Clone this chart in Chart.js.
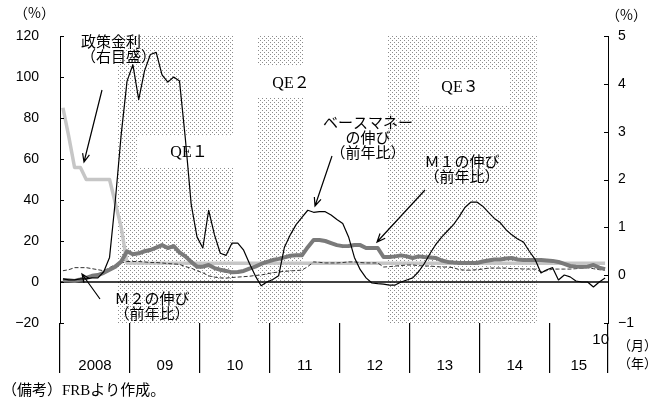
<!DOCTYPE html>
<html>
<head>
<meta charset="utf-8">
<script src="https://cdn.jsdelivr.net/npm/chart.js@4.4.1/dist/chart.umd.min.js"></script>
<style>
  html, body { margin: 0; padding: 0; background: #fff; }
  canvas { display: block; }
</style>
</head>
<body>
<canvas id="grafico" width="657" height="403"></canvas>
<script>
// Dados mensais: jan/2008 .. out/2015 (94 meses)
const anos = ['2008', '09', '10', '11', '12', '13', '14', '15'];
const limitesAno = [-0.5, 11.5, 23.5, 35.5, 47.5, 59.5, 71.5, 83.5, 93.5];

// ベースマネーの伸び（前年比, %）
const baseMoney = [
  1.5, 1, 1, 1.5, 1.5, 2, 2, 5, 12, 40, 72, 98,
  106, 89, 103, 111, 112, 101, 97.5, 100, 98, 70, 38, 22,
  16.6, 35, 23, 14, 13, 19, 19, 15.5, 9, 3, -1.8, 0,
  1.2, 3, 17, 23, 28, 31.5, 35, 34, 34.3, 34.3, 32.7, 30.5,
  28.5, 22, 12, 6, 2, -0.5, -0.8, -1, -1.5, -1.5, 0, 1,
  2, 5, 9, 14, 18.5, 22, 25, 28, 32, 36.5, 39, 39,
  37, 34, 31, 29, 25.5, 23, 21, 19.5, 15, 11, 4.4, 6,
  7, 1, 3.4, 2.5, 0.5, 0, 0, -2.4, 0, 2
];

// Ｍ１の伸び（前年比, %）
const m1 = [
  1, 0.8, 0.5, 1.2, 2, 3, 3.4, 4.5, 6, 7.5, 10, 15,
  13.5, 14, 15, 15.6, 16.8, 18, 16.6, 17.5, 14.5, 12.5, 9.8, 7.5,
  7.5, 8.3, 6.8, 6, 5.4, 4.7, 4.9, 5.4, 6.5, 7.5, 8.8, 9.8,
  10.7, 11.3, 12, 12.8, 13, 13, 17, 20.5, 20.5, 20, 19, 18,
  17.5, 17.6, 18, 18, 16.6, 16.6, 16.6, 12.2, 12.2, 12.5, 13, 12.5,
  11.7, 12.5, 12.2, 12, 11.7, 10.5, 9.8, 9.5, 9.3, 9.3, 9.3, 9.3,
  10, 10.5, 11, 11, 11.5, 11.7, 11, 10.7, 10.7, 10.7, 10.7, 10.5,
  10.3, 9.8, 8.8, 7.8, 7.5, 7.3, 7.5, 8.3, 7, 6.3
];

// Ｍ２の伸び（前年比, %）
const m2 = [
  5.5, 6, 7, 7, 7, 6.5, 6, 5.5, 7, 8.5, 9.3, 10,
  10, 10, 9.8, 9.5, 9.5, 9.3, 9, 8.8, 8.6, 7.5, 6.8, 5.5,
  4.5, 3, 2.4, 2, 1.9, 2.2, 2.4, 2.6, 2.8, 3.2, 3.4, 4,
  4.5, 4.9, 5.2, 5.4, 5.6, 5.8, 7.5, 9.8, 9.6, 9.3, 9.3, 9.3,
  9.5, 9.8, 9.8, 9.5, 9.3, 9.3, 9.3, 7.3, 7.5, 7.8, 8, 8.3,
  8.3, 8, 7.8, 7.8, 7.5, 7.3, 7.3, 7, 6, 5.8, 5.8, 6,
  6.3, 6.8, 6.8, 6.8, 6.8, 6.5, 6.5, 6.3, 6.3, 6.3, 5, 5.5,
  6.3, 6.3, 6.3, 6.3, 6.5, 6.8, 7, 6.5, 6, 5.8
];

// 政策金利（右目盛, %）
const politica = [
  3.5, 2.9, 2.25, 2.25, 2, 2, 2, 2, 2, 1.5, 1, 0.25,
  0.25, 0.25, 0.25, 0.25, 0.25, 0.25, 0.25, 0.25, 0.25, 0.25, 0.25, 0.25,
  0.25, 0.25, 0.25, 0.25, 0.25, 0.25, 0.25, 0.25, 0.25, 0.25, 0.25, 0.25,
  0.25, 0.25, 0.25, 0.25, 0.25, 0.25, 0.25, 0.25, 0.25, 0.25, 0.25, 0.25,
  0.25, 0.25, 0.25, 0.25, 0.25, 0.25, 0.25, 0.25, 0.25, 0.25, 0.25, 0.25,
  0.25, 0.25, 0.25, 0.25, 0.25, 0.25, 0.25, 0.25, 0.25, 0.25, 0.25, 0.25,
  0.25, 0.25, 0.25, 0.25, 0.25, 0.25, 0.25, 0.25, 0.25, 0.25, 0.25, 0.25,
  0.25, 0.25, 0.25, 0.25, 0.25, 0.25, 0.25, 0.25, 0.25, 0.25
];

// Períodos de QE (em índice de mês)
const qeNomes = ['QE１', 'QE２', 'QE３'];
const qeInicio = [9.3, 33.3, 55.6];
const qeFim = [29.2, 41.3, 81.3];

const fonteEixo = "'Liberation Sans Narrow', 'Liberation Sans', sans-serif";
const fonteJp = "'Noto Sans CJK JP', sans-serif";
const fonteSerif = "'Liberation Serif', 'Noto Sans CJK JP', serif";

// caixas brancas com o rótulo do QE (pixels)
const caixasQE = [
  { x0: 137, x1: 233, y0: 135, y1: 168, tx: 189, ty: 153 },
  { x0: 257, x1: 303, y0: 65, y1: 98, tx: 291, ty: 84 },
  { x0: 420, x1: 510, y0: 70, y1: 105, tx: 460, ty: 88 }
];

// anotações de texto e setas (pixels)
const notas = [
  { linhas: ['政策金利', '（右目盛）'], x: 81, y: 41, alinh: 'left' },
  { linhas: ['ベースマネー', 'の伸び', '（前年比）'], x: 368, y: 122, alinh: 'center' },
  { linhas: ['Ｍ１の伸び', '（前年比）'], x: 462, y: 161, alinh: 'center' },
  { linhas: ['Ｍ２の伸び', '（前年比）'], x: 152, y: 298, alinh: 'center' }
];
const setas = [
  [102, 90, 84, 162],
  [332, 156, 315, 206],
  [425, 190, 377, 242],
  [100, 299, 82, 274]
];

function serie(valores) {
  return valores.map((v, i) => ({ x: i, y: v }));
}

let padrao = null;
function criarPadrao(ctx) {
  const c = document.createElement('canvas');
  c.width = 4; c.height = 4;
  const g = c.getContext('2d');
  g.fillStyle = '#8c8c8c';
  g.fillRect(0, 0, 1, 1);
  g.fillRect(2, 2, 1, 1);
  return ctx.createPattern(c, 'repeat');
}

function desenharSeta(ctx, x1, y1, x2, y2) {
  const ang = Math.atan2(y2 - y1, x2 - x1);
  const L = 9, abertura = 0.4;
  ctx.beginPath();
  ctx.moveTo(x1, y1);
  ctx.lineTo(x2, y2);
  ctx.moveTo(x2 - L * Math.cos(ang - abertura), y2 - L * Math.sin(ang - abertura));
  ctx.lineTo(x2, y2);
  ctx.lineTo(x2 - L * Math.cos(ang + abertura), y2 - L * Math.sin(ang + abertura));
  ctx.stroke();
}

const extras = {
  id: 'extras',
  beforeDatasetsDraw(chart) {
    const { ctx, chartArea: a, scales } = chart;
    const x = scales.x, y = scales.y;
    if (!padrao) padrao = criarPadrao(ctx);
    ctx.save();
    // áreas pontilhadas dos QE
    ctx.fillStyle = padrao;
    qeInicio.forEach((s, k) => {
      const x0 = x.getPixelForValue(s), x1 = x.getPixelForValue(qeFim[k]);
      ctx.fillRect(x0, a.top, x1 - x0, a.bottom - a.top);
    });
    // caixas brancas + rótulos
    ctx.fillStyle = '#fff';
    caixasQE.forEach(b => ctx.fillRect(b.x0, b.y0, b.x1 - b.x0, b.y1 - b.y0));
    ctx.fillStyle = '#000';
    ctx.font = '16px ' + fonteSerif;
    ctx.textAlign = 'center';
    ctx.textBaseline = 'middle';
    caixasQE.forEach((b, k) => ctx.fillText(qeNomes[k], b.tx, b.ty));
    // linha do zero
    const y0 = y.getPixelForValue(0);
    ctx.strokeStyle = '#000';
    ctx.lineWidth = 1.5;
    ctx.beginPath();
    ctx.moveTo(a.left, y0);
    ctx.lineTo(a.right, y0);
    ctx.stroke();
    ctx.restore();
  },
  afterDraw(chart) {
    const { ctx, chartArea: a, scales } = chart;
    const x = scales.x, y = scales.y, y2 = scales.y2;
    ctx.save();
    ctx.strokeStyle = '#000';
    ctx.fillStyle = '#000';
    ctx.lineWidth = 1;

    // marcas internas dos eixos
    y.ticks.forEach(t => {
      const p = Math.round(y.getPixelForValue(t.value)) + 0.5;
      ctx.beginPath(); ctx.moveTo(a.left, p); ctx.lineTo(a.left + 4, p); ctx.stroke();
    });
    y2.ticks.forEach(t => {
      const p = Math.round(y2.getPixelForValue(t.value)) + 0.5;
      ctx.beginPath(); ctx.moveTo(a.right, p); ctx.lineTo(a.right - 4, p); ctx.stroke();
    });

    // rótulos dos anos
    ctx.font = '15px ' + fonteEixo;
    ctx.textAlign = 'center';
    ctx.textBaseline = 'middle';
    anos.forEach((ano, k) => {
      const c = (x.getPixelForValue(limitesAno[k]) + x.getPixelForValue(limitesAno[k + 1])) / 2;
      ctx.fillText(ano, c, 366);
    });
    ctx.textAlign = 'right';
    ctx.fillText('10', a.right + 1, 340);

    // unidades
    ctx.font = '14px ' + fonteJp;
    ctx.textAlign = 'left';
    ctx.fillText('（%）', 14, 13);
    ctx.fillText('（%）', 606, 15);
    ctx.font = '13px ' + fonteJp;
    ctx.fillText('（月）', 618, 345);
    ctx.fillText('（年）', 618, 363);

    // nota de rodapé
    ctx.font = '15px ' + fonteSerif;
    ctx.fillText('（備考）FRBより作成。', 2, 391);

    // anotações
    ctx.font = '15px ' + fonteJp;
    notas.forEach(n => {
      ctx.textAlign = n.alinh;
      n.linhas.forEach((l, i) => ctx.fillText(l, n.x, n.y + i * 15));
    });
    ctx.lineWidth = 1.2;
    setas.forEach(s => desenharSeta(ctx, s[0], s[1], s[2], s[3]));
    ctx.restore();
  }
};

const ctx = document.getElementById('grafico').getContext('2d');
new Chart(ctx, {
  type: 'line',
  data: {
    datasets: [
      { label: 'ベースマネー', data: serie(baseMoney), yAxisID: 'y', borderColor: '#000', borderWidth: 1.2, order: 0 },
      { label: 'M1', data: serie(m1), yAxisID: 'y', borderColor: '#7a7a7a', borderWidth: 4, order: 1 },
      { label: 'M2', data: serie(m2), yAxisID: 'y', borderColor: '#333', borderWidth: 1, borderDash: [4, 2], order: 2 },
      { label: '政策金利', data: serie(politica), yAxisID: 'y2', borderColor: '#c6c6c6', borderWidth: 3.5, order: 3 }
    ]
  },
  options: {
    responsive: false,
    animation: false,
    devicePixelRatio: 1,
    layout: { padding: { top: 36, bottom: 0, left: 0, right: 0 } },
    elements: { point: { radius: 0 }, line: { tension: 0, borderJoinStyle: 'round' } },
    plugins: { legend: { display: false }, tooltip: { enabled: false } },
    scales: {
      x: {
        type: 'linear',
        min: -0.5,
        max: 93.5,
        afterBuildTicks: s => { s.ticks = limitesAno.map(v => ({ value: v })); },
        afterFit: s => { s.height = 80; },
        border: { display: false },
        grid: { drawOnChartArea: false, drawTicks: true, tickLength: 50, color: '#000', lineWidth: 1.2 },
        ticks: { callback: () => '', autoSkip: false }
      },
      y: {
        position: 'left',
        min: -20,
        max: 120,
        afterFit: s => { s.width = 60; },
        border: { display: true, color: '#000', width: 1 },
        grid: { drawOnChartArea: false, drawTicks: false },
        ticks: {
          stepSize: 20, padding: 21, color: '#000',
          font: { family: fonteEixo, size: 14 },
          callback: v => v < 0 ? '−' + Math.abs(v) : v
        }
      },
      y2: {
        position: 'right',
        min: -1,
        max: 5,
        afterFit: s => { s.width = 49; },
        border: { display: true, color: '#000', width: 1 },
        grid: { drawOnChartArea: false, drawTicks: false },
        ticks: {
          stepSize: 1, padding: 10, color: '#000',
          font: { family: fonteEixo, size: 14 },
          callback: v => v < 0 ? '−' + Math.abs(v) : v
        }
      }
    }
  },
  plugins: [extras]
});
</script>
</body>
</html>
